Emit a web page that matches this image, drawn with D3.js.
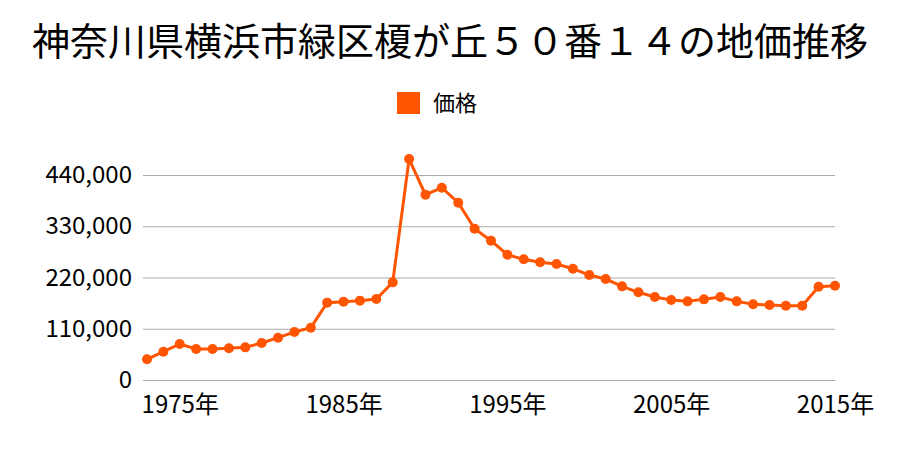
<!DOCTYPE html>
<html><head><meta charset="utf-8">
<script src="https://cdn.jsdelivr.net/npm/d3@7"></script>
<style>body{margin:0;background:#fff}svg{display:block}</style>
</head><body>
<svg id="c" width="900" height="450"></svg>
<script>
const title = "神奈川県横浜市緑区榎が丘５０番１４の地価推移";
const seriesName = "価格";
const years = d3.range(1973, 2016);
const prices = [44400, 60700, 77300, 66500, 66500, 68000, 70100, 79400, 90800, 103000,
  112300, 166000, 168100, 170300, 173800, 209600, 474300, 397700, 412700, 380500,
  324700, 299000, 268900, 259000, 252600, 248900, 238900, 225300, 216700, 201000,
  188200, 178100, 171700, 168800, 173100, 178100, 168800, 162400, 160900, 159500,
  159500, 200200, 202400];
const yTicks = [0, 110000, 220000, 330000, 440000];
const xTicks = [1975, 1985, 1995, 2005, 2015];
const color = "#ff5500";
const font = "'Noto Sans CJK JP', 'Noto Sans', sans-serif";

const svg = d3.select("#c");
const x = d3.scaleLinear().domain([1973, 2015]).range([147, 835]);
const y = d3.scaleLinear().domain([0, 440000]).range([380, 175]);

svg.append("text").attr("x", 450).attr("y", 55).attr("text-anchor", "middle")
  .attr("font-family", font).attr("font-size", 38).attr("fill", "#000").text(title);

// legend
svg.append("rect").attr("x", 397).attr("y", 92).attr("width", 23).attr("height", 22).attr("fill", color);
svg.append("text").attr("x", 433).attr("y", 111).attr("font-family", font)
  .attr("font-size", 22).attr("fill", "#000").text(seriesName);

// grid
const yAxis = d3.axisLeft(y).tickValues(yTicks).tickSize(-(835 - 147)).tickPadding(15)
  .tickFormat(d3.format(","));
const gy = svg.append("g").attr("transform", "translate(147,0)").call(yAxis);
gy.select(".domain").remove();
gy.selectAll(".tick line").attr("stroke", "#aaa").attr("x1", -4);
gy.selectAll(".tick text").attr("font-family", font).attr("font-size", 24).attr("fill", "#000");

const xAxis = d3.axisBottom(x).tickValues(xTicks).tickSize(0)
  .tickFormat(d => d + "年");
const gx = svg.append("g").attr("transform", "translate(0,380)").call(xAxis);
gx.select(".domain").remove();
gx.selectAll(".tick text").attr("dy", null).attr("y", 33)
  .attr("font-family", font).attr("font-size", 24).attr("fill", "#000");

const data = years.map((yr, i) => ({yr, v: prices[i]}));
svg.append("path").datum(data).attr("fill", "none").attr("stroke", color).attr("stroke-width", 3)
  .attr("d", d3.line().x(d => x(d.yr)).y(d => y(d.v)));
svg.selectAll("circle.pt").data(data).join("circle").attr("class", "pt")
  .attr("cx", d => x(d.yr)).attr("cy", d => y(d.v)).attr("r", 5).attr("fill", color);
</script>
</body></html>
